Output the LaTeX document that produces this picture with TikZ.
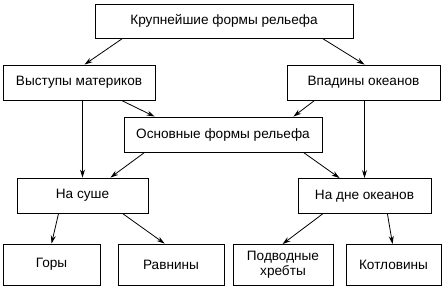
\documentclass[tikz,border=0pt]{standalone}
\usepackage{fontspec}
\setmainfont{Liberation Sans}
\usepackage{tikz}
\usetikzlibrary{arrows.meta, positioning}
\tikzset{
    box/.style={
        rectangle,
        draw=black,
        line width=0.9pt,
        minimum height=35pt,
        inner sep=2pt,
        align=center,
        font=\fontsize{13.6}{15}\selectfont
    },
    arrow/.style={
        line width=0.8pt,
        -{Stealth[length=8pt, width=5pt]}
    }
}

\begin{document}
\begin{tikzpicture}[x=1pt, y=-1pt]
\useasboundingbox (0,0) rectangle (445,289);

% levels of the scheme
\node[box, minimum width=258pt, minimum height=34pt] (top) at (224,21) {Крупнейшие формы рельефа};

\node[box, minimum width=152pt] (vystupy) at (79,82.5) {Выступы материков};
\node[box, minimum width=153pt] (vpadiny) at (363.5,82.5) {Впадины океанов};

\node[box, minimum width=198pt] (osnov) at (223,134.5) {Основные формы рельефа};

\node[box, minimum width=131pt] (sushe) at (82.5,195.5) {На суше};
\node[box, minimum width=133pt] (dno) at (364.5,196) {На дне океанов};

\node[box, minimum width=97pt, minimum height=41pt] (gory) at (51.5,264.5) {Горы};
\node[box, minimum width=106pt, minimum height=41pt] (ravniny) at (171,264.5) {Равнины};
\node[box, minimum width=100pt, minimum height=41pt] (khrebty) at (283,265) {Подводные\\хребты};
\node[box, minimum width=95pt, minimum height=41pt] (kotloviny) at (393.5,265) {Котловины};

% connectors
\draw[arrow] ([xshift=28]top.south west) -- ([xshift=82]vystupy.north west);
\draw[arrow] ([xshift=-31]top.south east) -- ([xshift=78]vpadiny.north west);

\draw[arrow] ([xshift=119]vystupy.south west) -- ([xshift=31]osnov.north west);
\draw[arrow] ([xshift=28]vpadiny.south west) -- ([xshift=-29]osnov.north east);

\draw[arrow] (vystupy.south -| sushe.north) -- (sushe.north);
\draw[arrow] (vpadiny.south -| dno.north) -- (dno.north);

\draw[arrow] ([xshift=21]osnov.south west) -- ([xshift=-38]sushe.north east);
\draw[arrow] ([xshift=-19]osnov.south east) -- ([xshift=42]dno.north west);

\draw[arrow] ([xshift=42]sushe.south west) -- ([xshift=49]gory.north west);
\draw[arrow] ([xshift=-26]sushe.south east) -- ([xshift=47]ravniny.north west);
\draw[arrow] ([xshift=25]dno.south west) -- ([xshift=50]khrebty.north west);
\draw[arrow] ([xshift=-44]dno.south east) -- ([xshift=47]kotloviny.north west);

\end{tikzpicture}
\end{document}
